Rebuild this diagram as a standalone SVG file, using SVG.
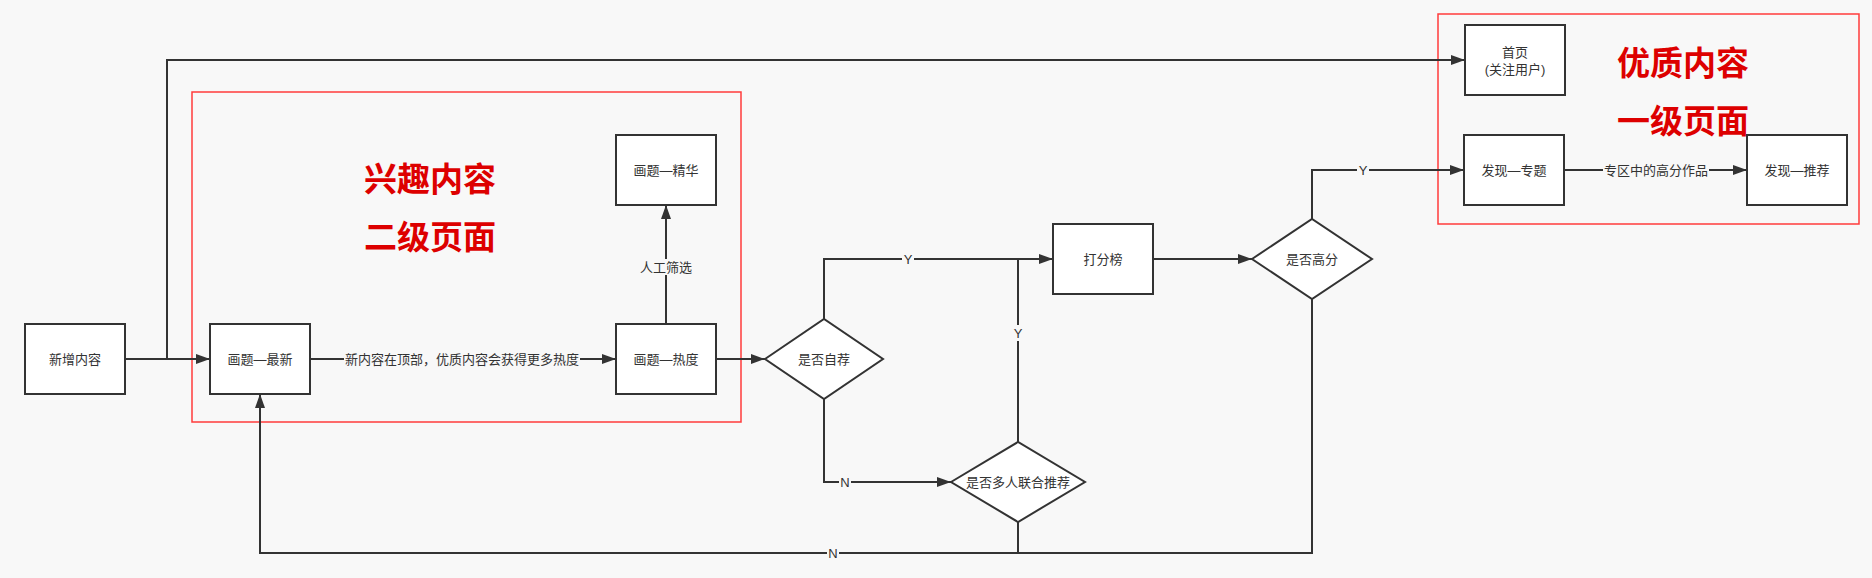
<svg xmlns="http://www.w3.org/2000/svg" width="1872" height="578" viewBox="0 0 1872 578">
<style>
.bg{fill:#f8f8f8}
.node{fill:#ffffff;stroke:#333333;stroke-width:2}
.group{fill:none;stroke:#ff3b3b;stroke-width:1.5}
.edge{fill:none;stroke:#333333;stroke-width:2}
.arr{marker-end:url(#ah)}
text{font-family:"Liberation Sans","Noto Sans CJK SC",sans-serif;fill:#333333;font-size:13px;text-anchor:middle;dominant-baseline:central}
.title{font-size:33px;fill:#dd0000;font-weight:bold}
.lblbg{fill:#f8f8f8}
</style>
<defs>
<marker id="ah" viewBox="0 0 14 10" markerWidth="14" markerHeight="10" refX="14" refY="5" orient="auto" markerUnits="userSpaceOnUse">
<path d="M0,0 L14,5 L0,10 Z" fill="#333333"/>
</marker>
</defs>
<rect class="bg" x="0" y="0" width="1872" height="578"/>

<g id="group-interest">
<rect class="group" x="192" y="92" width="549" height="330"/>
<text class="title" x="430" y="179">兴趣内容</text>
<text class="title" x="430" y="237">二级页面</text>
</g>
<g id="group-quality">
<rect class="group" x="1438" y="14" width="421" height="210"/>
<text class="title" x="1683" y="63">优质内容</text>
<text class="title" x="1683" y="121">一级页面</text>
</g>

<g id="connectors">
<path class="edge arr" d="M125,359 H210"/>
<path class="edge arr" d="M167,359 V60 H1465"/>
<path class="edge arr" d="M310,359 H616"/>
<path class="edge arr" d="M666,324 V205"/>
<path class="edge arr" d="M716,359 H765"/>
<path class="edge arr" d="M824,319 V259 H1053"/>
<path class="edge arr" d="M824,399 V482 H951"/>
<path class="edge" d="M1018,442 V259"/>
<path class="edge arr" d="M1153,259 H1252"/>
<path class="edge arr" d="M1312,219 V170 H1464"/>
<path class="edge arr" d="M1564,170 H1747"/>
<path class="edge arr" d="M1312,299 V553 H260 V394"/>
<path class="edge" d="M1018,522 V553"/>

<rect class="lblbg" x="344" y="351" width="236" height="16"/>
<text x="462" y="359">新内容在顶部，优质内容会获得更多热度</text>
<rect class="lblbg" x="639" y="259" width="54" height="16"/>
<text x="666" y="267">人工筛选</text>
<rect class="lblbg" x="902" y="251" width="12" height="16"/>
<text x="908" y="259">Y</text>
<rect class="lblbg" x="1012" y="325" width="12" height="16"/>
<text x="1018" y="333">Y</text>
<rect class="lblbg" x="839" y="474" width="12" height="16"/>
<text x="845" y="482">N</text>
<rect class="lblbg" x="827" y="545" width="12" height="16"/>
<text x="833" y="553">N</text>
<rect class="lblbg" x="1357" y="162" width="12" height="16"/>
<text x="1363" y="170">Y</text>
<rect class="lblbg" x="1603" y="162" width="106" height="16"/>
<text x="1656" y="170">专区中的高分作品</text>
</g>

<g id="n-new">
<rect class="node" x="25" y="324" width="100" height="70"/>
<text x="75" y="359">新增内容</text>
</g>
<g id="n-latest">
<rect class="node" x="210" y="324" width="100" height="70"/>
<text x="260" y="359">画题—最新</text>
</g>
<g id="n-hot">
<rect class="node" x="616" y="324" width="100" height="70"/>
<text x="666" y="359">画题—热度</text>
</g>
<g id="n-best">
<rect class="node" x="616" y="135" width="100" height="70"/>
<text x="666" y="170">画题—精华</text>
</g>
<g id="d-self">
<polygon class="node" points="765,359 824,319 883,359 824,399"/>
<text x="824" y="359">是否自荐</text>
</g>
<g id="n-score">
<rect class="node" x="1053" y="224" width="100" height="70"/>
<text x="1103" y="259">打分榜</text>
</g>
<g id="d-multi">
<polygon class="node" points="951,482 1018,442 1085,482 1018,522"/>
<text x="1018" y="482">是否多人联合推荐</text>
</g>
<g id="d-high">
<polygon class="node" points="1252,259 1312,219 1372,259 1312,299"/>
<text x="1312" y="259">是否高分</text>
</g>
<g id="n-home">
<rect class="node" x="1465" y="25" width="100" height="70"/>
<text x="1515" y="52">首页</text>
<text x="1515" y="69">(关注用户)</text>
</g>
<g id="n-topic">
<rect class="node" x="1464" y="135" width="100" height="70"/>
<text x="1514" y="170">发现—专题</text>
</g>
<g id="n-rec">
<rect class="node" x="1747" y="135" width="100" height="70"/>
<text x="1797" y="170">发现—推荐</text>
</g>
</svg>
